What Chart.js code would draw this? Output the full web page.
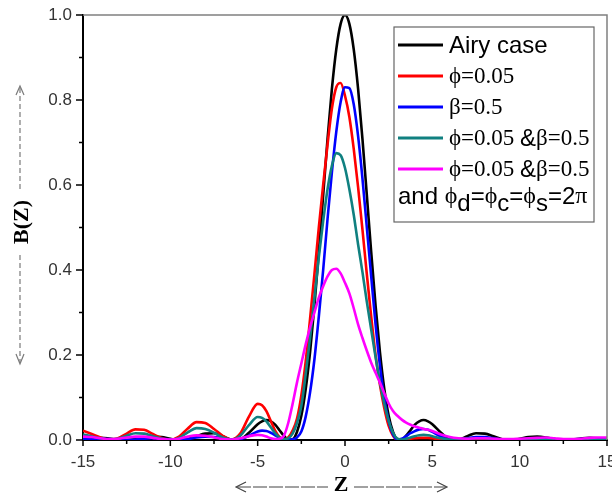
<!DOCTYPE html>
<html>
<head>
<meta charset="utf-8">
<script src="https://cdn.jsdelivr.net/npm/chart.js@4"></script>
<style>
  html, body { margin: 0; padding: 0; background: #fff; }
</style>
</head>
<body>
<canvas id="chart" width="612" height="495"></canvas>
<script>
// Z sample positions (finer around the main peak)
const zValues = [
  -15, -14.5, -14, -13.5, -13, -12.5, -12, -11.5, -11, -10.5, -10, -9.5, -9, -8.5, -8, -7.5, -7, -6.5, -6, -5.5, -5,
  -4.75, -4.5, -4.25, -4, -3.75, -3.5, -3.25, -3, -2.75, -2.5, -2.25, -2, -1.75, -1.5, -1.25, -1, -0.75, -0.5, -0.25, 0,
  0.25, 0.5, 0.75, 1, 1.25, 1.5, 1.75, 2, 2.25, 2.5, 2.75, 3, 3.25, 3.5, 3.75, 4, 4.25, 4.5, 4.75,
  5, 5.5, 6, 6.5, 7, 7.5, 8, 8.5, 9, 9.5, 10, 10.5, 11, 11.5, 12, 12.5, 13, 13.5, 14, 14.5, 15
];

const airyCase = [
  0.002, 0.004, 0.005, 0.0035, 0.001, 0, 0.002, 0.006, 0.008, 0.007, 0.003, 0, 0.002, 0.009, 0.015, 0.016, 0.009, 0.001, 0.002, 0.017, 0.037,
  0.044, 0.047, 0.044, 0.036, 0.023, 0.010, 0.001, 0.002, 0.019, 0.057, 0.120, 0.207, 0.316, 0.442, 0.576, 0.708, 0.826, 0.919, 0.979, 1.0,
  0.979, 0.919, 0.826, 0.708, 0.576, 0.442, 0.316, 0.207, 0.120, 0.057, 0.019, 0.002, 0.001, 0.010, 0.023, 0.036, 0.044, 0.047, 0.044,
  0.037, 0.017, 0.002, 0.001, 0.009, 0.016, 0.015, 0.009, 0.002, 0, 0.003, 0.007, 0.008, 0.006, 0.002, 0, 0.001, 0.0035, 0.005, 0.004, 0.002
];

const phiOnly = [
  0.022, 0.014, 0.006, 0.001, 0.004, 0.015, 0.025, 0.024, 0.014, 0.005, 0.001, 0.008, 0.027, 0.042, 0.040, 0.026, 0.010, 0.001, 0.015, 0.055, 0.085,
  0.082, 0.068, 0.045, 0.022, 0.007, 0.001, 0.006, 0.022, 0.05, 0.105, 0.185, 0.285, 0.39, 0.50, 0.60, 0.695, 0.78, 0.83, 0.84, 0.81,
  0.76, 0.685, 0.595, 0.495, 0.39, 0.29, 0.20, 0.13, 0.075, 0.033, 0.01, 0.001, 0.001, 0.002, 0.003, 0.004, 0.005, 0.005, 0.005,
  0.004, 0.002, 0.001, 0, 0.001, 0.002, 0.002, 0.001, 0, 0, 0.001, 0.001, 0.001, 0.001, 0, 0, 0.001, 0.001, 0.001, 0.001, 0.001
];

const betaOnly = [
  0.002, 0.003, 0.003, 0.002, 0.001, 0, 0.001, 0.003, 0.004, 0.003, 0.001, 0, 0.002, 0.006, 0.008, 0.007, 0.004, 0.001, 0.002, 0.010, 0.020,
  0.022, 0.021, 0.017, 0.011, 0.005, 0.002, 0.001, 0.002, 0.006, 0.020, 0.055, 0.112, 0.19, 0.29, 0.40, 0.52, 0.63, 0.725, 0.795, 0.83,
  0.828, 0.79, 0.715, 0.615, 0.50, 0.385, 0.272, 0.175, 0.098, 0.045, 0.013, 0.001, 0.003, 0.009, 0.016, 0.021, 0.025, 0.026, 0.024,
  0.019, 0.008, 0.001, 0.001, 0.004, 0.007, 0.007, 0.004, 0.001, 0, 0.001, 0.003, 0.003, 0.002, 0.001, 0, 0.001, 0.002, 0.002, 0.002, 0.001
];

const phiBeta = [
  0.013, 0.009, 0.004, 0.001, 0.003, 0.010, 0.016, 0.015, 0.009, 0.003, 0, 0.005, 0.018, 0.028, 0.026, 0.017, 0.006, 0.001, 0.010, 0.035, 0.054,
  0.052, 0.044, 0.030, 0.016, 0.006, 0.002, 0.004, 0.015, 0.040, 0.080, 0.155, 0.24, 0.335, 0.43, 0.515, 0.59, 0.645, 0.675, 0.67, 0.64,
  0.59, 0.53, 0.46, 0.395, 0.325, 0.26, 0.195, 0.135, 0.085, 0.045, 0.017, 0.003, 0.001, 0.003, 0.006, 0.009, 0.011, 0.012, 0.011,
  0.009, 0.004, 0.001, 0.001, 0.003, 0.004, 0.004, 0.002, 0, 0.001, 0.001, 0.002, 0.002, 0.001, 0.001, 0.001, 0.001, 0.001, 0.001, 0.001, 0.001
];

const phiBetaPhases = [
  0.008, 0.007, 0.004, 0.002, 0.003, 0.006, 0.008, 0.008, 0.005, 0.002, 0.001, 0.003, 0.008, 0.011, 0.010, 0.006, 0.002, 0.001, 0.004, 0.009, 0.012,
  0.011, 0.008, 0.004, 0.002, 0.003, 0.010, 0.040, 0.085, 0.135, 0.18, 0.225, 0.265, 0.30, 0.335, 0.362, 0.385, 0.400, 0.403, 0.392, 0.37,
  0.345, 0.31, 0.272, 0.24, 0.21, 0.182, 0.158, 0.135, 0.11, 0.086, 0.068, 0.057, 0.048, 0.041, 0.036, 0.032, 0.029, 0.026, 0.024,
  0.021, 0.013, 0.007, 0.004, 0.003, 0.004, 0.004, 0.003, 0.002, 0.002, 0.003, 0.004, 0.005, 0.006, 0.004, 0.002, 0.002, 0.003, 0.005, 0.006, 0.006
];

const seriesNames = ['Airy case', 'ϕ=0.05', 'β=0.5', 'ϕ=0.05 &β=0.5', 'ϕ=0.05 &β=0.5'];
const seriesColors = ['#000000', '#ff0000', '#0000ff', '#108080', '#ff00ff'];
const legendNote = 'and ϕd=ϕc=ϕs=2π';
const xTicks = [-15, -10, -5, 0, 5, 10, 15];
const yTicks = [0, 0.2, 0.4, 0.6, 0.8, 1.0];

const SANS = '"Liberation Sans", Arial, sans-serif';
const SERIF = '"Liberation Serif", "Times New Roman", serif';

function toPoints(ys) {
  return zValues.map((z, i) => ({ x: z, y: ys[i] }));
}

const allSeries = [airyCase, phiOnly, betaOnly, phiBeta, phiBetaPhases];
const datasets = allSeries.map((ys, i) => ({
  label: seriesNames[i],
  data: toPoints(ys),
  borderColor: seriesColors[i],
  borderWidth: 2.6,
  pointRadius: 0,
  fill: false,
  cubicInterpolationMode: 'monotone',
  order: 4 - i
}));

// draws a run of text, picking fonts per character
function drawRuns(ctx, x, y, runs) {
  runs.forEach(r => {
    ctx.font = r.font;
    ctx.fillText(r.text, x, y + (r.dy || 0));
    x += ctx.measureText(r.text).width;
  });
}

function labelRuns(text, serifBase, size) {
  const runs = [];
  for (const ch of text) {
    let font;
    if (ch === '&') font = (size + 1) + 'px ' + SANS;
    else font = size + 'px ' + (serifBase ? SERIF : SANS);
    runs.push({ text: ch, font: font });
  }
  return runs;
}

function noteRuns(text, size) {
  const runs = [];
  let prev = '';
  for (const ch of text) {
    if (ch === 'ϕ' || ch === 'π') runs.push({ text: ch, font: size + 'px ' + SERIF });
    else if (prev === 'ϕ') runs.push({ text: ch, font: size + 'px ' + SANS, dy: 7 });
    else runs.push({ text: ch, font: size + 'px ' + SANS });
    prev = ch;
  }
  return runs;
}

const decorations = {
  id: 'decorations',
  afterDraw(chart) {
    const ctx = chart.ctx;
    const area = chart.chartArea;
    const xs = chart.scales.x;
    const ys = chart.scales.y;
    ctx.save();

    // top and right frame
    ctx.strokeStyle = '#808080';
    ctx.lineWidth = 1.5;
    ctx.beginPath();
    ctx.moveTo(area.left, area.top);
    ctx.lineTo(area.right, area.top);
    ctx.lineTo(area.right, area.bottom);
    ctx.stroke();

    // tick marks
    ctx.strokeStyle = '#000';
    ctx.lineWidth = 1.5;
    ctx.beginPath();
    for (let v = -15; v <= 15; v += 2.5) {
      const px = xs.getPixelForValue(v);
      const len = (v % 5 === 0) ? 6 : 4;
      ctx.moveTo(px, area.bottom);
      ctx.lineTo(px, area.bottom + len);
    }
    for (let k = 0; k <= 10; k++) {
      const py = ys.getPixelForValue(k / 10);
      const len = (k % 2 === 0) ? 7 : 4;
      ctx.moveTo(area.left, py);
      ctx.lineTo(area.left - len, py);
    }
    ctx.stroke();

    // y title with dashed arrows
    ctx.strokeStyle = '#7a7a7a';
    ctx.lineWidth = 1.2;
    ctx.setLineDash([5, 3]);
    ctx.beginPath();
    ctx.moveTo(20, 88); ctx.lineTo(20, 190);
    ctx.moveTo(20, 255); ctx.lineTo(20, 362);
    ctx.stroke();
    ctx.setLineDash([]);
    ctx.beginPath();
    ctx.moveTo(16, 95); ctx.lineTo(20, 86); ctx.lineTo(24, 95);
    ctx.moveTo(16, 354); ctx.lineTo(20, 364); ctx.lineTo(24, 354);
    ctx.stroke();

    ctx.fillStyle = '#000';
    ctx.save();
    ctx.translate(22, 222);
    ctx.rotate(-Math.PI / 2);
    ctx.font = 'bold 22px ' + SERIF;
    ctx.textAlign = 'center';
    ctx.textBaseline = 'middle';
    ctx.fillText('B(Z)', 0, 0);
    ctx.restore();

    // x title with arrows
    ctx.strokeStyle = '#444';
    ctx.lineWidth = 1.2;
    ctx.setLineDash([14, 2]);
    ctx.beginPath();
    ctx.moveTo(237, 487); ctx.lineTo(328, 487);
    ctx.moveTo(354, 487); ctx.lineTo(446, 487);
    ctx.stroke();
    ctx.setLineDash([]);
    ctx.beginPath();
    ctx.moveTo(246, 482); ctx.lineTo(236, 487); ctx.lineTo(246, 492);
    ctx.moveTo(437, 482); ctx.lineTo(447, 487); ctx.lineTo(437, 492);
    ctx.stroke();
    ctx.font = 'bold 22px ' + SERIF;
    ctx.textAlign = 'center';
    ctx.textBaseline = 'middle';
    ctx.fillText('Z', 341, 485);

    // legend box
    const lx = 394, ly = 27, lw = 200, lh = 195;
    ctx.fillStyle = '#fff';
    ctx.fillRect(lx, ly, lw, lh);
    ctx.strokeStyle = '#666';
    ctx.lineWidth = 1.2;
    ctx.strokeRect(lx, ly, lw, lh);
    const rowY = [45, 76, 107, 138, 169];
    ctx.textAlign = 'left';
    ctx.textBaseline = 'middle';
    seriesNames.forEach((name, i) => {
      ctx.strokeStyle = seriesColors[i];
      ctx.lineWidth = 3;
      ctx.beginPath();
      ctx.moveTo(398, rowY[i]);
      ctx.lineTo(443, rowY[i]);
      ctx.stroke();
      ctx.fillStyle = '#000';
      const runs = i === 0 ? labelRuns(name, false, 24) : labelRuns(name, true, 23);
      drawRuns(ctx, 449, rowY[i] + 1, runs);
    });
    ctx.fillStyle = '#000';
    drawRuns(ctx, 398, 197, noteRuns(legendNote, 24));

    ctx.restore();
  }
};

new Chart(document.getElementById('chart'), {
  type: 'line',
  data: { datasets: datasets },
  options: {
    responsive: false,
    animation: false,
    layout: { padding: { top: 15, right: 5, left: 0, bottom: 0 } },
    plugins: { legend: { display: false }, tooltip: { enabled: false } },
    scales: {
      x: {
        type: 'linear',
        min: -15,
        max: 15,
        afterBuildTicks: s => { s.ticks = xTicks.map(v => ({ value: v })); },
        afterFit: s => { s.height = 55; s.paddingLeft = 0; s.paddingRight = 0; },
        ticks: {
          color: '#333',
          font: { family: SANS, size: 17 },
          padding: 12,
          maxRotation: 0,
          autoSkip: false
        },
        grid: { display: false, drawTicks: false },
        border: { color: '#000', width: 2 }
      },
      y: {
        min: 0,
        max: 1,
        afterBuildTicks: s => { s.ticks = yTicks.map(v => ({ value: v })); },
        afterFit: s => { s.width = 83; s.paddingTop = 0; s.paddingBottom = 0; },
        ticks: {
          color: '#333',
          font: { family: SANS, size: 17 },
          padding: 11,
          callback: v => v.toFixed(1)
        },
        grid: { display: false, drawTicks: false },
        border: { color: '#000', width: 2 }
      }
    }
  },
  plugins: [decorations]
});
</script>
</body>
</html>
